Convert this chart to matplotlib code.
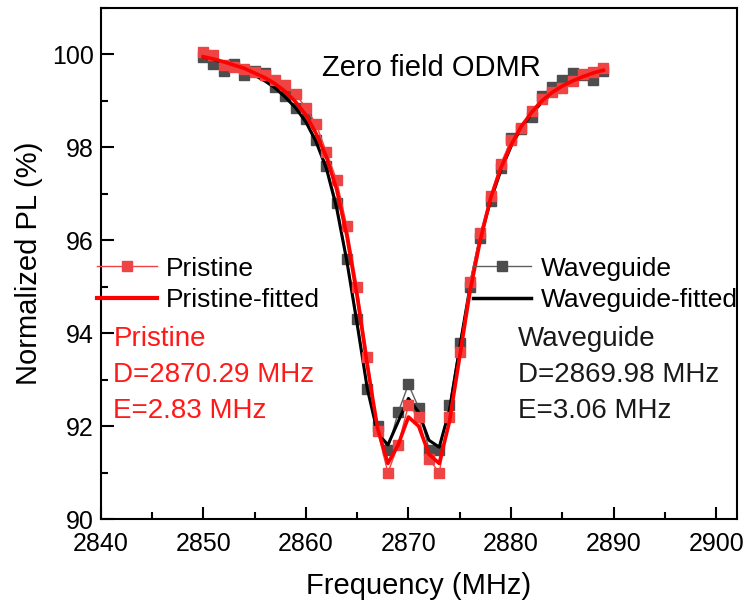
import matplotlib
matplotlib.use("Agg")
import matplotlib.pyplot as plt
from matplotlib.lines import Line2D
from matplotlib.ticker import MultipleLocator

plt.rcParams['font.family'] = ['Liberation Sans', 'DejaVu Sans']

freq = list(range(2850, 2890))

pristine = [100.05, 99.98, 99.78, 99.72, 99.68, 99.62, 99.55, 99.45, 99.35, 99.15,
            98.85, 98.50, 97.90, 97.30, 96.30, 95.00, 93.50, 91.90, 91.00, 91.60,
            92.45, 92.20, 91.30, 91.00, 92.20, 93.60, 95.10, 96.15, 96.95, 97.65,
            98.15, 98.42, 98.78, 99.05, 99.20, 99.28, 99.42, 99.58, 99.62, 99.70]

waveguide = [99.95, 99.80, 99.65, 99.80, 99.55, 99.65, 99.60, 99.30, 99.10, 98.85,
             98.60, 98.15, 97.60, 96.80, 95.60, 94.30, 92.80, 92.00, 91.50, 92.30,
             92.90, 92.40, 91.50, 91.50, 92.45, 93.80, 95.00, 96.05, 96.85, 97.55,
             98.20, 98.40, 98.65, 99.10, 99.30, 99.45, 99.60, 99.55, 99.45, 99.65]

pristine_fit = [99.95, 99.90, 99.84, 99.77, 99.70, 99.60, 99.50, 99.37, 99.20, 98.98,
                98.70, 98.30, 97.80, 97.10, 96.10, 94.80, 93.30, 91.95, 91.20, 91.60,
                92.20, 92.00, 91.40, 91.20, 92.10, 93.50, 94.90, 96.00, 96.90, 97.55,
                98.05, 98.45, 98.75, 99.00, 99.18, 99.32, 99.43, 99.52, 99.60, 99.66]

waveguide_fit = [99.95, 99.89, 99.82, 99.74, 99.65, 99.55, 99.43, 99.28, 99.08, 98.85,
                 98.55, 98.12, 97.55, 96.70, 95.55, 94.20, 92.80, 91.85, 91.60, 92.10,
                 92.60, 92.30, 91.70, 91.55, 92.35, 93.70, 95.00, 96.05, 96.85, 97.50,
                 98.02, 98.42, 98.72, 98.97, 99.16, 99.30, 99.42, 99.51, 99.59, 99.65]

fig = plt.figure(figsize=(7.45, 6.08), dpi=100)
ax = fig.add_axes([0.135, 0.146, 0.854, 0.841])

red_m = '#EE4444'
gray_m = '#4D4D4D'

ax.plot(freq, waveguide, '-', color='#606060', lw=1.0, marker='s', ms=7.5,
        mfc=gray_m, mec=gray_m, zorder=2)
ax.plot(freq, waveguide_fit, '-', color='black', lw=2.2, zorder=3)
ax.plot(freq, pristine, '-', color=red_m, lw=1.0, marker='s', ms=7.5,
        mfc=red_m, mec=red_m, zorder=4)
ax.plot(freq, pristine_fit, '-', color='#FF0000', lw=2.6, zorder=5)

ax.set_xlim(2840, 2902)
ax.set_ylim(90, 101)
ax.xaxis.set_minor_locator(MultipleLocator(5))
ax.yaxis.set_major_locator(MultipleLocator(2))
ax.yaxis.set_minor_locator(MultipleLocator(1))
ax.set_xticks(range(2840, 2901, 10))
ax.tick_params(which='major', direction='in', length=9, width=1.5, labelsize=18,
               top=False, right=False)
ax.tick_params(axis='x', which='major', pad=9)
ax.tick_params(axis='y', which='major', pad=5)
ax.tick_params(which='minor', direction='in', length=5, width=1.5,
               top=False, right=False)
for s in ax.spines.values():
    s.set_linewidth(1.5)

ax.set_xlabel('Frequency (MHz)', fontsize=21, labelpad=12)
ax.set_ylabel('Normalized PL (%)', fontsize=21, labelpad=6)

ax.text(0.52, 0.883, 'Zero field ODMR', transform=ax.transAxes, fontsize=21,
        ha='center', va='center')

h1 = [Line2D([], [], color=red_m, lw=1.0, marker='s', ms=7.5, mfc=red_m, mec=red_m),
      Line2D([], [], color='#FF0000', lw=3)]
leg1 = ax.legend(h1, ['Pristine', 'Pristine-fitted'], loc='center left',
                 bbox_to_anchor=(-0.005, 0.459), frameon=False, fontsize=19,
                 handlelength=2.27, handletextpad=0.34, labelspacing=0.3,
                 borderaxespad=0, borderpad=0)
ax.add_artist(leg1)
h2 = [Line2D([], [], color='#606060', lw=1.0, marker='s', ms=7.5, mfc=gray_m, mec=gray_m),
      Line2D([], [], color='black', lw=2.5)]
ax.legend(h2, ['Waveguide', 'Waveguide-fitted'], loc='center left',
          bbox_to_anchor=(0.586, 0.459), frameon=False, fontsize=19,
          handlelength=2.2, handletextpad=0.34, labelspacing=0.3,
          borderaxespad=0, borderpad=0)

ax.text(0.02, 0.282, 'Pristine\nD=2870.29 MHz\nE=2.83 MHz', transform=ax.transAxes,
        color='#FF1A1A', fontsize=20, ha='left', va='center', linespacing=1.5)
ax.text(0.656, 0.282, 'Waveguide\nD=2869.98 MHz\nE=3.06 MHz', transform=ax.transAxes,
        color='#1a1a1a', fontsize=20, ha='left', va='center', linespacing=1.5)

fig.savefig('out.png', dpi=100)
